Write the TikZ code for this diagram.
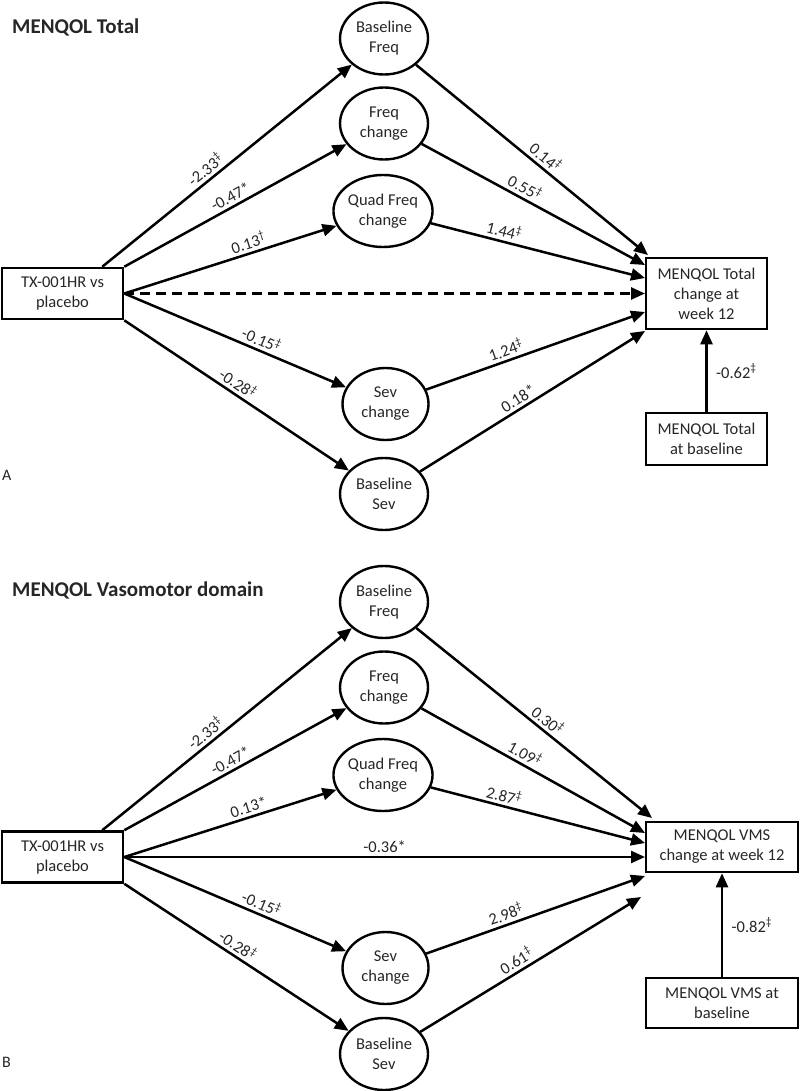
\documentclass[tikz,border=0pt]{standalone}
\usepackage{fontspec}
\setmainfont{Carlito}
\usetikzlibrary{shapes.geometric,arrows.meta}
\newcommand{\ddg}{\textsuperscript{‡}}
\newcommand{\sdg}{\textsuperscript{†}}
\begin{document}
\begin{tikzpicture}[x=1pt,y=-1pt,
  txt/.style={font=\fontsize{16.5}{20}\selectfont, text=black!85, align=center},
  box/.style={txt, draw, line width=2.6pt, rectangle, inner sep=0pt},
  ell/.style={txt, draw, line width=2.4pt, ellipse, inner sep=0pt, minimum height=72pt, minimum width=88pt},
  arr/.style={line width=2.5pt, -{Triangle[length=14pt,width=12pt]}},
  lab/.style={font=\fontsize{16.5}{18}\selectfont, text=black!85, sloped, above, inner sep=3pt},
  ttl/.style={font=\fontsize{21}{24}\selectfont\bfseries, text=black!85, anchor=west, inner sep=0pt},
  plab/.style={font=\fontsize{16}{18}\selectfont, text=black!85, anchor=west, inner sep=0pt},
  vlab/.style={font=\fontsize{16.5}{18}\selectfont, text=black!85, right, xshift=5pt}]
\useasboundingbox (0,0) rectangle (800,1091);

% ---------------- Panel A ----------------
\node[ttl] (titleA) at (12,27) {MENQOL Total};
\node[plab] (labA) at (2,475) {A};

\node[box, minimum width=121pt, minimum height=51pt] (txA) at (62.5,293.5) {TX-001HR vs\\placebo};
\node[ell] (bfA) at (384,38.5) {Baseline\\Freq};
\node[ell] (fcA) at (384,123.5) {Freq\\change};
\node[ell, minimum width=98pt] (qfA) at (383,211) {Quad Freq\\change};
\node[ell, minimum width=86pt] (scA) at (385.5,404) {Sev\\change};
\node[ell] (bsA) at (384,494) {Baseline\\Sev};
\node[box, minimum width=121pt, minimum height=71pt] (outA) at (706.5,293.5) {MENQOL Total\\change at\\week 12};
\node[box, minimum width=121pt, minimum height=52pt] (baseA) at (706.5,439) {MENQOL Total\\at baseline};

\coordinate (tA1) at (648,255);
\coordinate (tA2) at (645,265);
\coordinate (tA3) at (645,278);
\coordinate (tA4) at (645,293.5);
\coordinate (tA5) at (645,312);
\coordinate (tA6) at (645,331);

\draw[arr] ([xshift=-22pt]txA.north east) -- node[lab,pos=0.44]{-2.33\ddg} (bfA);
\draw[arr] (txA.north east) -- node[lab,pos=0.5]{-0.47*} (fcA);
\draw[arr] (txA.east) -- node[lab,pos=0.6]{0.13\sdg} (qfA);
\draw[arr, dash pattern=on 10pt off 6pt] (txA.east) -- (tA4);
\draw[arr] (txA.east) -- node[lab,pos=0.6]{-0.15\ddg} (scA);
\draw[arr] (txA.south east) -- node[lab,pos=0.48]{-0.28\ddg} (bsA);

\draw[arr] (bfA) -- node[lab,pos=0.53]{0.14\ddg} (tA1);
\draw[arr] (fcA) -- node[lab,pos=0.44]{0.55\ddg} (tA2);
\draw[arr] (qfA) -- node[lab,pos=0.33]{1.44\ddg} (tA3);
\draw[arr] (scA) -- node[lab,pos=0.38]{1.24\ddg} (tA5);
\draw[arr] (bsA) -- node[lab,pos=0.46]{0.18*} (tA6);

\draw[arr] (baseA.north) -- node[vlab]{-0.62\ddg} (outA.south);

% ---------------- Panel B ----------------
\node[ttl] (titleB) at (12,590) {MENQOL Vasomotor domain};
\node[plab] (labB) at (2,1062) {B};

\node[box, minimum width=121pt, minimum height=51pt] (txB) at (62.5,857) {TX-001HR vs\\placebo};
\node[ell] (bfB) at (384,602) {Baseline\\Freq};
\node[ell] (fcB) at (384,687.5) {Freq\\change};
\node[ell, minimum width=98pt] (qfB) at (383,775) {Quad Freq\\change};
\node[ell, minimum width=86pt] (scB) at (385.5,968) {Sev\\change};
\node[ell] (bsB) at (384,1054) {Baseline\\Sev};
\node[box, minimum width=152pt, minimum height=50pt] (outB) at (722,847) {MENQOL VMS\\change at week 12};
\node[box, minimum width=152pt, minimum height=50pt] (baseB) at (722,1003) {MENQOL VMS at\\baseline};

\coordinate (tB1) at (652,818);
\coordinate (tB2) at (645,833);
\coordinate (tB3) at (645,843);
\coordinate (tB4) at (645,857);
\coordinate (tB5) at (645,876);
\coordinate (tB6) at (641,897);

\draw[arr] ([xshift=-22pt]txB.north east) -- node[lab,pos=0.44]{-2.33\ddg} (bfB);
\draw[arr] (txB.north east) -- node[lab,pos=0.5]{-0.47*} (fcB);
\draw[arr] (txB.east) -- node[lab,pos=0.6]{0.13*} (qfB);
\draw[arr] (txB.east) -- node[lab,pos=0.5]{-0.36*} (tB4);
\draw[arr] (txB.east) -- node[lab,pos=0.6]{-0.15\ddg} (scB);
\draw[arr] (txB.south east) -- node[lab,pos=0.48]{-0.28\ddg} (bsB);

\draw[arr] (bfB) -- node[lab,pos=0.53]{0.30\ddg} (tB1);
\draw[arr] (fcB) -- node[lab,pos=0.44]{1.09\ddg} (tB2);
\draw[arr] (qfB) -- node[lab,pos=0.33]{2.87\ddg} (tB3);
\draw[arr] (scB) -- node[lab,pos=0.38]{2.98\ddg} (tB5);
\draw[arr] (bsB) -- node[lab,pos=0.46]{0.61\ddg} (tB6);

\draw[arr] (baseB.north) -- node[vlab]{-0.82\ddg} (outB.south);
\end{tikzpicture}
\end{document}
